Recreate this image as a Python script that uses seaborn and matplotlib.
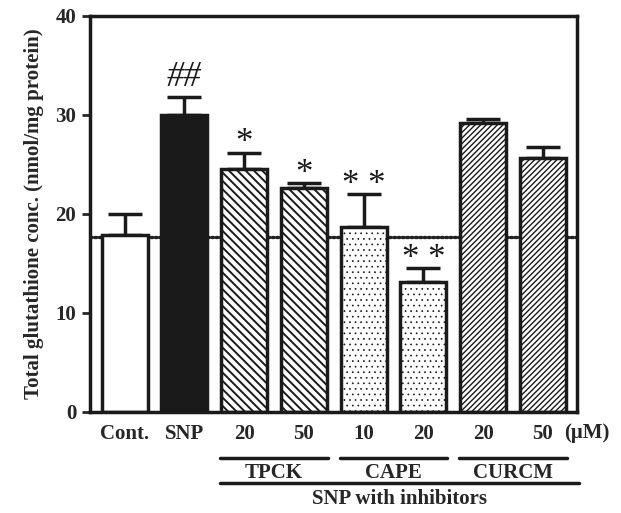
import matplotlib
matplotlib.use("Agg")
import matplotlib.pyplot as plt
import seaborn as sns
import pandas as pd
import numpy as np

categories = ["Cont.", "SNP", "TPCK 20", "TPCK 50", "CAPE 10", "CAPE 20", "CURCM 20", "CURCM 50"]
tick_labels = ["Cont.", "SNP", "20", "50", "10", "20", "20", "50"]
means = [17.9, 30.0, 24.5, 22.6, 18.7, 13.1, 29.2, 25.6]
errors = [2.1, 1.8, 1.7, 0.5, 3.3, 1.4, 0.4, 1.2]
marks = ["", "##", "*", "*", "* *", "* *", "", ""]
groups = ["TPCK", "CAPE", "CURCM"]
control_level = 17.7

sns.set_theme(style="ticks")
plt.rcParams["font.family"] = ["Liberation Serif", "DejaVu Serif"]

df = pd.DataFrame({"group": categories, "value": means})

fig = plt.figure(figsize=(6.21, 5.13), dpi=100)
ax = fig.add_axes([0.145, 0.197, 0.784, 0.772])

ax.axhline(control_level, color="#222222", lw=2.4, linestyle=(0, (0.5, 0.8)),
           dash_capstyle="round", zorder=0)

sns.barplot(data=df, x="group", y="value", ax=ax, errorbar=None,
            width=0.77, color="white", edgecolor="#1a1a1a", linewidth=2.5, zorder=2)

facecolors = ["white", "#1a1a1a", "white", "white", "white", "white", "white", "white"]
hatches = [None, None, "\\\\\\\\", "\\\\\\\\", "...", "...", "//////", "//////"]
hatch_lw = [1, 1, 1.4, 1.4, 0.5, 0.5, 1.0, 1.0]
for p, fc, h, hl in zip(ax.patches, facecolors, hatches, hatch_lw):
    p.set_facecolor(fc)
    if h:
        p.set_hatch(h)
        try:
            p.set_hatch_linewidth(hl)
        except AttributeError:
            pass

x = np.arange(len(categories))
ax.errorbar(x, means, yerr=[np.zeros(len(errors)), errors], fmt="none",
            ecolor="#1a1a1a", elinewidth=2.5, capsize=12, capthick=2.5, zorder=1)

for xi, m, e, t in zip(x, means, errors, marks):
    if t:
        is_hash = t == "##"
        ax.text(xi, m + e + (0.3 if is_hash else -0.8), t, ha="center", va="bottom",
                fontsize=25, color="#1a1a1a", style="italic" if is_hash else "normal")

ax.set_ylim(0, 40)
ax.set_xlim(-0.58, 7.57)
ax.set_yticks([0, 10, 20, 30, 40])
ax.set_xticks(x)
ax.set_xticklabels(tick_labels, fontsize=15, fontweight="bold")
ax.tick_params(axis="x", length=0, pad=9)
ax.tick_params(axis="y", length=6, width=2, labelsize=15, direction="out", pad=4)
for lbl in ax.get_yticklabels():
    lbl.set_fontweight("bold")
for s in ax.spines.values():
    s.set_linewidth(2.5)
    s.set_color("#1a1a1a")
ax.set_xlabel("")
ax.set_ylabel("Total glutathione conc. (nmol/mg protein)", fontsize=15,
              fontweight="bold", labelpad=8)

trans = ax.get_xaxis_transform()
ax.text(7.36, -0.029, "(\u03bcM)", transform=trans,
        ha="left", va="top", fontsize=15, fontweight="bold")

for i, g in enumerate(groups):
    x0 = 2 + 2 * i - 0.4
    x1 = 3 + 2 * i + 0.4
    ax.plot([x0, x1], [-0.117, -0.117], transform=trans, color="#1a1a1a",
            lw=2.5, clip_on=False)
    ax.text((x0 + x1) / 2, -0.13, g, transform=trans, ha="center", va="top",
            fontsize=15, fontweight="bold")
ax.plot([1.6, 7.6], [-0.18, -0.18], transform=trans, color="#1a1a1a",
        lw=2.5, clip_on=False)
ax.text(4.6, -0.195, "SNP with inhibitors", transform=trans, ha="center", va="top",
        fontsize=15, fontweight="bold")

fig.savefig("out.png", dpi=100)
